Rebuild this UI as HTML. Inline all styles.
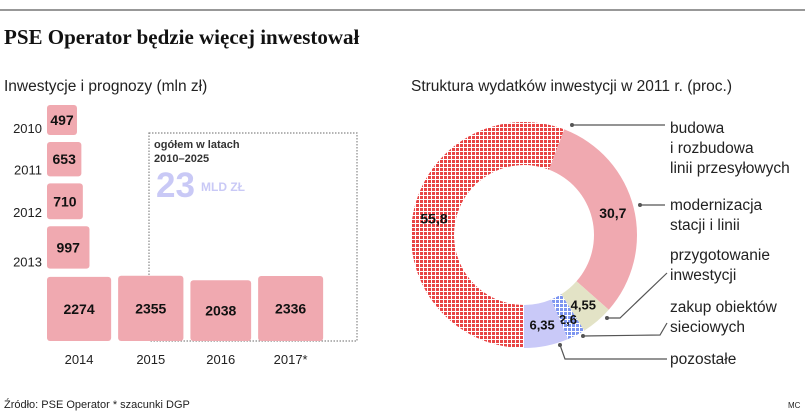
<!DOCTYPE html>
<html><head><meta charset="utf-8">
<style>
body{margin:0;background:#fff;}
svg{display:block;font-family:"Liberation Sans",sans-serif;}
</style></head>
<body>
<svg id="chart" width="805" height="417" viewBox="0 0 805 417" xmlns="http://www.w3.org/2000/svg">
<defs>
<pattern id="redHatch" width="4" height="4" patternUnits="userSpaceOnUse">
<rect width="4" height="4" fill="#e84545"/><rect x="3" width="1" height="4" fill="#fff"/><rect y="3" width="4" height="1" fill="#fff"/>
</pattern>
<pattern id="blueHatch" width="4" height="4" patternUnits="userSpaceOnUse">
<rect width="4" height="4" fill="#7d95f0"/><rect x="3" width="1" height="4" fill="#fff"/><rect y="3" width="4" height="1" fill="#fff"/>
</pattern>
</defs>
<line x1="0" y1="10" x2="805" y2="10" stroke="#777" stroke-width="1.5"/>
<text x="4" y="44" font-family="Liberation Serif, serif" font-weight="bold" font-size="21" fill="#111">PSE Operator będzie więcej inwestował</text>
<text x="4" y="91" font-size="15.5" fill="#222">Inwestycje i prognozy (mln zł)</text>
<text x="411" y="91" font-size="15.5" fill="#222">Struktura wydatków inwestycji w 2011 r. (proc.)</text>

<rect x="149" y="133" width="208" height="208" fill="none" stroke="#888" stroke-width="1.2" stroke-dasharray="1.5,1.5"/>
<text x="154" y="148" font-size="11" font-weight="bold" fill="#333">ogółem w latach</text>
<text x="154" y="162" font-size="11" font-weight="bold" fill="#333">2010–2025</text>
<text x="156" y="197" font-size="35" font-weight="bold" fill="#c9c9f6">23</text>
<text x="201" y="191" font-size="12" font-weight="bold" fill="#c9c9f6">MLD ZŁ</text>

<g id="bars"></g>
<g id="donut"></g>

<g stroke="#555" stroke-width="1.2" fill="none">
<polyline points="572,125 665,125"/>
<polyline points="640,205 665,205"/>
<polyline points="667,273 620,318 607,318"/>
<polyline points="667,323 660,335 583,336"/>
<polyline points="667,359 565,359 560,345"/>
</g>
<g fill="#555">
<circle cx="572" cy="125" r="2"/><circle cx="640" cy="205" r="2"/><circle cx="607" cy="318" r="2"/><circle cx="583" cy="336" r="2"/><circle cx="560" cy="345" r="2"/>
</g>
<g font-size="15.5" fill="#222">
<text x="670" y="133"><tspan x="670">budowa</tspan><tspan x="670" dy="20">i rozbudowa</tspan><tspan x="670" dy="20">linii przesyłowych</tspan></text>
<text x="670" y="210"><tspan x="670">modernizacja</tspan><tspan x="670" dy="20">stacji i linii</tspan></text>
<text x="670" y="260"><tspan x="670">przygotowanie</tspan><tspan x="670" dy="20">inwestycji</tspan></text>
<text x="670" y="312"><tspan x="670">zakup obiektów</tspan><tspan x="670" dy="20">sieciowych</tspan></text>
<text x="670" y="364">pozostałe</text>
</g>
<text x="4" y="408" font-size="11" fill="#222">Źródło: PSE Operator   * szacunki DGP</text>
<text x="788" y="408" font-size="8" fill="#222">MC</text>
</svg>
<script>
const colYears = ["2010","2011","2012","2013"];
const colValues = [497, 653, 710, 997];
const rowYears = ["2014","2015","2016","2017*"];
const rowValues = [2274, 2355, 2038, 2336];
const sliceLabels = ["55,8","30,7","4,55","2,6","6,35"];
const sliceValues = [55.8, 30.7, 4.55, 2.6, 6.35];
const sliceNames = ["budowa","modernizacja","przygotowanie","zakup","pozostale"];

const NS = "http://www.w3.org/2000/svg";
function mk(tag, attrs, parent){const e=document.createElementNS(NS,tag);for(const k in attrs)e.setAttribute(k,attrs[k]);parent.appendChild(e);return e;}
const side = v => 1.345*Math.sqrt(v);
const bars = document.getElementById('bars');
let y = 105;
colValues.forEach((v,i)=>{
  const s = side(v);
  const r = mk('rect',{x:47,y:y,width:s,height:s,rx:3,fill:'#f0a9b0'},bars);
  
  
  const t = mk('text',{x:47+s/2,y:y+s/2+5,'text-anchor':'middle','font-size':14,'font-weight':'bold',fill:'#111'},bars);
  t.textContent = v;
  
  
  const l = mk('text',{x:42,y:y+s-2,'text-anchor':'end','font-size':13,fill:'#222'},bars);
  l.textContent = colYears[i];
  
  
  y += s + 7;
});
let x = 47; const base = 341;
rowValues.forEach((v,i)=>{
  const s = side(v);
  const r = mk('rect',{x:x,y:base-s,width:s,height:s,rx:3,fill:'#f0a9b0'},bars);
  
  
  const t = mk('text',{x:x+s/2,y:base-s/2+5,'text-anchor':'middle','font-size':14,'font-weight':'bold',fill:'#111'},bars);
  t.textContent = v;
  
  
  const l = mk('text',{x:x+s/2,y:364,'text-anchor':'middle','font-size':13,fill:'#222'},bars);
  l.textContent = rowYears[i];
  
  
  x += s + 7;
});

const donut = document.getElementById('donut');
const cx=524, cy=235, R=113, r0=70;
const fills = ['url(#redHatch)','#f0a9b0','#e3e3c6','url(#blueHatch)','#c9c9f8'];
const total = sliceValues.reduce((a,b)=>a+b,0);
let a = 180;
const pt=(ang,rad)=>{const t=ang*Math.PI/180;return [cx+rad*Math.sin(t), cy-rad*Math.cos(t)];};
sliceValues.forEach((v,i)=>{
  const sweep = v/total*360, a2 = a+sweep, lg = sweep>180?1:0;
  const p1=pt(a,R),p2=pt(a2,R),p3=pt(a2,r0),p4=pt(a,r0);
  const p = mk('path',{d:`M${p1} A${R},${R} 0 ${lg} 1 ${p2} L${p3} A${r0},${r0} 0 ${lg} 0 ${p4}Z`,fill:fills[i]},donut);
  
  
  const mid=a+sweep/2;
  const rad = v<4 ? 95 : (R+r0)/2;
  const lp = pt(mid,rad);
  const t = mk('text',{x:lp[0],y:lp[1]+5,'text-anchor':'middle','font-size':v<10?13:14,'font-weight':'bold',fill:'#111'},donut);
  t.textContent = sliceLabels[i];
  
  
  a = a2;
});
</script>
</body></html>
